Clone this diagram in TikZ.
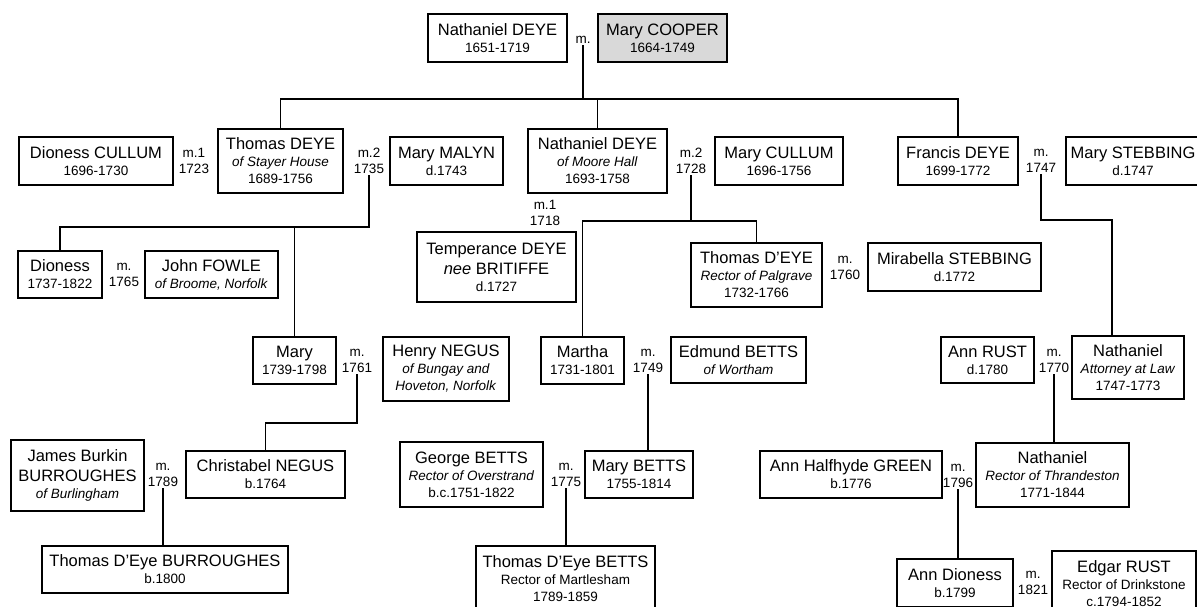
\documentclass[tikz,border=0pt]{standalone}
\usepackage{fontspec}
\setmainfont{Liberation Sans}
\usetikzlibrary{calc}
\definecolor{boxgray}{HTML}{D9D9D9}
\newcommand\nm[1]{{\fontsize{16.5}{19}\selectfont #1}}
\newcommand\famnode[7][]{\node[pbox,#1,minimum width={(#5-#3)*1pt},minimum height={(#6-#4)*1pt}] (#2) at ({(#3+#5)/2},{(#4+#6)/2}) {#7};}
\tikzset{
  pbox/.style={draw=black, line width=1.8pt, fill=white, inner sep=0pt, align=center, font=\fontsize{13.5}{17}\selectfont},
  mlab/.style={inner sep=1.5pt, align=center, font=\fontsize{13.5}{16}\selectfont},
  link/.style={draw=black, line width=1.8pt}
}
\begin{document}
\begin{tikzpicture}[x=1pt,y=-1pt]
\useasboundingbox (0,0) rectangle (1197,607);
\clip (0,0) rectangle (1197,607);
\fill[white] (0,0) rectangle (1197,607);

% generation 1
\famnode{ndeye}{428}{14}{567}{62}{\nm{Nathaniel DEYE}\\1651-1719}
\famnode[fill=boxgray]{mcooper}{598}{14}{727}{62}{\nm{Mary COOPER}\\1664-1749}
\node[mlab] (mtop) at (583,40) {m.};

% generation 2
\famnode{dcullum}{19}{137}{173}{185}{\nm{Dioness CULLUM}\\1696-1730}
\famnode{tdeye}{218}{129}{343}{193}{\nm{Thomas DEYE}\\\textit{of Stayer House}\\1689-1756}
\famnode{mmalyn}{390}{137}{503}{185}{\nm{Mary MALYN}\\d.1743}
\famnode{ndeyem}{528}{129}{667}{193}{\nm{Nathaniel DEYE}\\\textit{of Moore Hall}\\1693-1758}
\famnode{mcullum}{715}{137}{843}{185}{\nm{Mary CULLUM}\\1696-1756}
\famnode{fdeye}{898}{137}{1018}{185}{\nm{Francis DEYE}\\1699-1772}
\famnode{mstebbing}{1066}{137}{1200}{185}{\nm{Mary STEBBING}\\d.1747}
\node[mlab] (m1723) at (194,161) {m.1\\1723};
\node[mlab] (m1735) at (369,161) {m.2\\1735};
\node[mlab] (m1718) at (545,213) {m.1\\1718};
\node[mlab] (m1728) at (691,161) {m.2\\1728};
\node[mlab] (m1747) at (1041,161) {m.\\1747};

% generation 3
\famnode{dioness}{18}{251}{102}{298}{\nm{Dioness}\\1737-1822}
\famnode{jfowle}{145}{251}{278}{298}{\nm{John FOWLE}\\\textit{of Broome, Norfolk}}
\famnode{temperance}{417}{232}{576}{302}{\nm{Temperance DEYE}\\[3pt]\nm{\textit{nee} BRITIFFE}\\d.1727}
\famnode{tdeyep}{691}{243}{822}{307}{\nm{Thomas D’EYE}\\\textit{Rector of Palgrave}\\1732-1766}
\famnode{mirabella}{868}{243}{1041}{291}{\nm{Mirabella STEBBING}\\d.1772}
\node[mlab] (m1765) at (124,275) {m.\\1765};
\node[mlab] (m1760) at (845,268) {m.\\1760};

\famnode{mary}{253}{337}{336}{384}{\nm{Mary}\\1739-1798}
\famnode{hnegus}{383}{337}{509}{401}{\nm{Henry NEGUS}\\\textit{of Bungay and}\\\textit{Hoveton, Norfolk}}
\famnode{martha}{541}{337}{624}{384}{\nm{Martha}\\1731-1801}
\famnode{ebetts}{671}{337}{806}{383}{\nm{Edmund BETTS}\\\textit{of Wortham}}
\famnode{arust}{941}{337}{1034}{383}{\nm{Ann RUST}\\d.1780}
\famnode{natha}{1072}{336}{1184}{399}{\nm{Nathaniel}\\\textit{Attorney at Law}\\1747-1773}
\node[mlab] (m1761) at (357,361) {m.\\1761};
\node[mlab] (m1749) at (648,361) {m.\\1749};
\node[mlab] (m1770) at (1054,361) {m.\\1770};

% generation 4
\famnode{jburroughes}{11}{440}{144}{511}{\nm{James Burkin}\\[3pt]\nm{BURROUGHES}\\\textit{of Burlingham}}
\famnode{christabel}{186}{451}{345}{498}{\nm{Christabel NEGUS}\\b.1764}
\famnode{gbetts}{400}{442}{543}{507}{\nm{George BETTS}\\\textit{Rector of Overstrand}\\b.c.1751-1822}
\famnode{marybetts}{585}{451}{693}{498}{\nm{Mary BETTS}\\1755-1814}
\famnode{agreen}{760}{451}{942}{498}{\nm{Ann Halfhyde GREEN}\\b.1776}
\famnode{natht}{976}{443}{1129}{507}{\nm{Nathaniel}\\\textit{Rector of Thrandeston}\\1771-1844}
\node[mlab] (m1789) at (163,475) {m.\\1789};
\node[mlab] (m1775) at (566,475) {m.\\1775};
\node[mlab] (m1796) at (958,476) {m.\\1796};

% generation 5
\famnode{tdburroughes}{42}{546}{288}{593}{\nm{Thomas D’Eye BURROUGHES}\\b.1800}
\famnode{tdbetts}{476}{546}{655}{612}{\nm{Thomas D’Eye BETTS}\\Rector of Martlesham\\1789-1859}
\famnode{adioness}{897}{559}{1013}{607}{\nm{Ann Dioness}\\b.1799}
\famnode{erust}{1052}{551}{1196}{616}{\nm{Edgar RUST}\\Rector of Drinkstone\\c.1794-1852}
\node[mlab] (m1821) at (1033,583) {m.\\1821};

% connectors
\coordinate (bar0) at (0,99);
\coordinate (bar1) at (0,227);
\coordinate (bar2) at (0,221);
\coordinate (bar3) at (0,220);
\coordinate (bar4) at (0,423);
\draw[link] (mtop.south) -- (mtop.south |- bar0);
\draw[link] (tdeye.north) -- (tdeye.north |- bar0) -- (fdeye.north |- bar0) -- (fdeye.north);
\draw[link] (ndeyem.north) -- (ndeyem.north |- bar0);

\draw[link] (m1735.south) -- (m1735.south |- bar1) -| (dioness.north);
\draw[link] (mary.north) -- (mary.north |- bar1);

\draw[link] (m1728.south) -- (m1728.south |- bar2);
\draw[link] (martha.north) -- (martha.north |- bar2) -- (tdeyep.north |- bar2) -- (tdeyep.north);

\draw[link] (m1747.south) -- (m1747.south |- bar3) -| ($(natha.north)+(-16,0)$);

\draw[link] (m1761.south) -- (m1761.south |- bar4) -| (christabel.north);
\draw[link] (m1749.south) -- (m1749.south |- marybetts.north);
\draw[link] (m1770.south) -- (m1770.south |- natht.north);
\draw[link] (m1789.south) -- (m1789.south |- tdburroughes.north);
\draw[link] (m1775.south) -- (m1775.south |- tdbetts.north);
\draw[link] (m1796.south) -- (m1796.south |- adioness.north);
\end{tikzpicture}
\end{document}
